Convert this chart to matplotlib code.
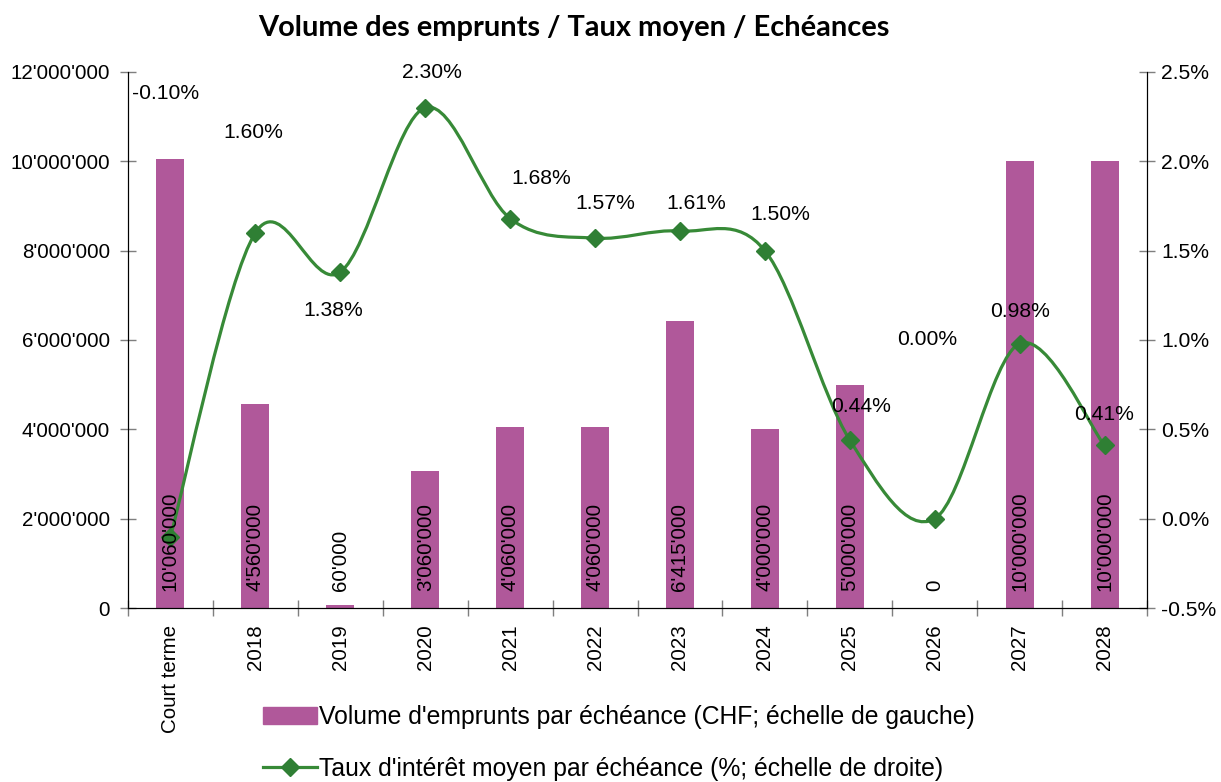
import matplotlib
matplotlib.use("Agg")
import matplotlib.pyplot as plt
from matplotlib.path import Path
from matplotlib.patches import PathPatch
from matplotlib.lines import Line2D
from matplotlib.ticker import FuncFormatter
import numpy as np

categories = ["Court terme", "2018", "2019", "2020", "2021", "2022",
              "2023", "2024", "2025", "2026", "2027", "2028"]
volumes = [10060000, 4560000, 60000, 3060000, 4060000, 4060000,
           6415000, 4000000, 5000000, 0, 10000000, 10000000]
rates = [-0.10, 1.60, 1.38, 2.30, 1.68, 1.57, 1.61, 1.50, 0.44, 0.00, 0.98, 0.41]

# label offsets (pixels) for the rate labels, as placed in the original
rate_label_offsets = [(-5, 443), (-2, 100), (-7, -38), (7, 35), (31, 40), (10, 35),
                      (16, 28), (15, 36), (11, 34), (-8, 179), (0, 32), (0, 31)]

BAR_COLOR = "#B0589A"
LINE_COLOR = "#378A37"
MARKER_COLOR = "#2F7F34"
FONT = "Liberation Sans"
FS = 14.8
FS_LEG = 17.8


def swiss(v, pos=None):
    return f"{int(round(v)):,}".replace(",", "'")


def smooth_path(xs, ys):
    # Excel-style smoothed line: cubic Bezier through each point
    pts = np.column_stack([xs, ys]).astype(float)
    n = len(pts)
    verts = [pts[0]]
    codes = [Path.MOVETO]
    for i in range(n - 1):
        p0 = pts[i - 1] if i > 0 else pts[i]
        p1 = pts[i]
        p2 = pts[i + 1]
        p3 = pts[i + 2] if i + 2 < n else pts[i + 1]
        c1 = p1 + (p2 - p0) / 6.0
        c2 = p2 - (p3 - p1) / 6.0
        verts += [c1, c2, p2]
        codes += [Path.CURVE4] * 3
    return Path(verts, codes)


plt.rcParams["font.family"] = [FONT, "DejaVu Sans"]

fig = plt.figure(figsize=(12.21, 7.82), dpi=100)
ax = fig.add_axes([128 / 1221, 1 - 608 / 782, (1147 - 128) / 1221, (608 - 72) / 782])
ax2 = ax.twinx()

x = np.arange(len(categories))

# bars
ax.bar(x, volumes, width=0.33, color=BAR_COLOR, zorder=2)
ax.set_xlim(-0.5, len(categories) - 0.5)
ax.set_ylim(0, 12000000)
ax.set_yticks(np.arange(0, 12000001, 2000000))
ax.yaxis.set_major_formatter(FuncFormatter(swiss))

# category ticks between bars, labels at centres
ax.set_xticks(np.arange(-0.5, len(categories), 1.0))
ax.set_xticklabels([])
ax.set_xticks(x, minor=True)
ax.set_xticklabels(categories, minor=True, rotation=90, fontsize=FS, va="top")
ax.tick_params(axis="x", which="major", direction="inout", length=12, color="#7f7f7f", width=1)
ax.tick_params(axis="x", which="minor", length=0, pad=12)
ax.tick_params(axis="y", direction="inout", length=12, color="#7f7f7f", width=1,
               labelsize=FS, pad=7)

for sp in ["top"]:
    ax.spines[sp].set_visible(False)
    ax2.spines[sp].set_visible(False)
for sp in ["left", "bottom", "right"]:
    ax2.spines[sp].set_color("black")
    ax.spines[sp].set_color("black")

# line on the right axis
ax2.set_ylim(-0.5, 2.5)
ax2.set_yticks(np.arange(-0.5, 2.51, 0.5))
ax2.yaxis.set_major_formatter(FuncFormatter(lambda v, p: f"{v:.1f}%"))
ax2.tick_params(axis="y", direction="inout", length=12, color="#7f7f7f", width=1,
                labelsize=FS + 0.4, pad=4)

curve = PathPatch(smooth_path(x, rates), facecolor="none", edgecolor=LINE_COLOR,
                  linewidth=2.3, zorder=3)
ax2.add_patch(curve)
ax2.plot(x, rates, linestyle="none", marker="D", markersize=9.5,
         color=MARKER_COLOR, zorder=4)

for xi, r, (dx, dy) in zip(x, rates, rate_label_offsets):
    ax2.annotate(f"{r:.2f}%", (xi, r), xytext=(dx, dy), textcoords="offset pixels",
                 ha="center", va="center", fontsize=FS + 0.4, zorder=5)

# bar value labels, rotated, at the base of each bar
for xi, v in zip(x, volumes):
    ax2.annotate(swiss(v), (xi, -0.5), xytext=(0, 17), textcoords="offset pixels",
                 rotation=90, ha="center", va="bottom", fontsize=FS, zorder=5)

fig.text(574 / 1221, 1 - 28 / 782, "Volume des emprunts / Taux moyen / Echéances",
         ha="center", va="center", fontsize=20.9, fontweight="bold", family="Lato")

handles = [
    plt.Rectangle((0, 0), 1, 1, color=BAR_COLOR),
    Line2D([], [], color=LINE_COLOR, linewidth=2.3, marker="D", markersize=9.5,
           markerfacecolor=MARKER_COLOR, markeredgecolor=MARKER_COLOR),
]
labels = ["Volume d'emprunts par échéance (CHF; échelle de gauche)",
          "Taux d'intérêt moyen par échéance (%; échelle de droite)"]
fig.legend(handles, labels, loc="center left", bbox_to_anchor=(263 / 1221, 1 - 743 / 782),
           frameon=False, fontsize=FS_LEG, handlelength=2.2, handletextpad=0.08,
           handleheight=0.65, labelspacing=1.1, borderpad=0, borderaxespad=0,
           numpoints=1)

fig.savefig("out.png", dpi=100)
